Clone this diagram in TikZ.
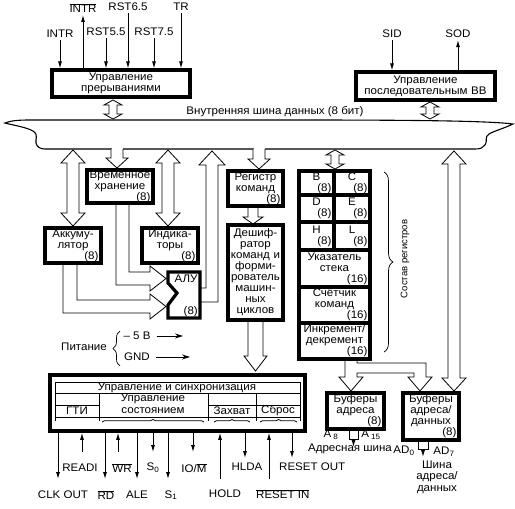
\documentclass[tikz,border=0pt]{standalone}
\usepackage{fontspec}
\setmainfont[FakeStretch=1.05]{Liberation Sans}
\newfontfamily\narrowsans{Liberation Sans}
\usetikzlibrary{arrows.meta,decorations.pathreplacing,scopes}

\tikzset{
  bx/.style 2 args={draw,line width=3.2pt,inner xsep=2pt,inner ysep=0pt,align=center,
    font=\fontsize{11}{11}\selectfont,minimum width=#1pt,minimum height=#2pt,
    /utils/exec={\pgfmathsetmacro\bw{#1-5}},text width/.expanded={\bw pt}},
  txt/.style={inner sep=0pt,font=\fontsize{11}{11.5}\selectfont},
  sig/.style={-{Latex[length=7pt,width=4pt]},line width=0.9pt},
  pw/.style={-{Stealth[length=8pt,width=5pt]},line width=0.8pt},
  hol/.style={fill=white,line width=0.8pt},
  tbl/.style={line width=0.6pt},
  brc/.style={decorate,decoration={brace,amplitude=#1},line width=0.7pt},
}

% hollow double arrow: x, top tip, bottom tip
\newcommand\dblarr[3]{\filldraw[hol] ({#1-6},{#2+13}) -- ({#1-12},{#2+13}) -- (#1,#2) -- ({#1+12},{#2+13}) -- ({#1+6},{#2+13})
  -- ({#1+6},{#3-13}) -- ({#1+12},{#3-13}) -- (#1,#3) -- ({#1-12},{#3-13}) -- ({#1-6},{#3-13}) -- cycle;}
% small double arrow
\newcommand\smlarr[3]{\filldraw[hol] ({#1-4},{#2+5}) -- ({#1-9},{#2+5}) -- (#1,#2) -- ({#1+9},{#2+5}) -- ({#1+4},{#2+5})
  -- ({#1+4},{#3-5}) -- ({#1+9},{#3-5}) -- (#1,#3) -- ({#1-9},{#3-5}) -- ({#1-4},{#3-5}) -- cycle;}
% arrow out of the bus: x, bus edge, tip
\newcommand\busdn[3]{\fill[white] ({#1-5.5},{#2-1.5}) rectangle ({#1+5.5},{#2+1});
  \filldraw[hol] ({#1-6},#2) -- ({#1-6},{#3-10}) -- ({#1-11},{#3-10}) -- (#1,#3) -- ({#1+11},{#3-10}) -- ({#1+6},{#3-10}) -- ({#1+6},#2);}

\begin{document}
\begin{tikzpicture}[x=1pt,y=-1pt]
\useasboundingbox (0,0) rectangle (515,509);

% internal data bus
\filldraw[fill=white,line width=1.1pt] (5,123) .. controls (10,121) and (16,120) .. (30,120) -- (300,120)
  .. controls (420,120) and (490,121) .. (513,124) .. controls (505,128) and (494,131) .. (489,134)
  .. controls (484,137) and (488,141) .. (485,145) .. controls (483,148) and (480,149) .. (475,149) -- (45,149)
  .. controls (40,149) and (37,147) .. (36,143) .. controls (35,139) and (39,135) .. (33,131)
  .. controls (26,127) and (12,125) .. (5,123) -- cycle;
\node[txt] (buslbl) at (275,112) {Внутренняя шина данных (8 бит)};

% wide arrows
\smlarr{113}{100}{119}
\smlarr{430}{102}{119}
\smlarr{335}{150}{169}
\dblarr{73}{150}{226}
\dblarr{168}{150}{226}
\dblarr{454}{151}{391}
\busdn{117}{149}{168}
\busdn{259}{149}{169}
\filldraw[hol] (201,288) -- (206,288) -- (206,165) -- (199,165) -- (212,151) -- (225,165) -- (218,165) -- (218,302) -- (201,302);
\filldraw[hol] (129,203) -- (129,272) -- (150,272) -- (150,266) -- (166,278.5) -- (150,291) -- (150,285) -- (116,285) -- (116,203);
\filldraw[hol] (77,263) -- (77,300) -- (150,300) -- (150,294) -- (166,306.5) -- (150,319) -- (150,313) -- (63,313) -- (63,263);
\filldraw[hol] (248,206) -- (248,217) -- (243,217) -- (253,224) -- (263,217) -- (258,217) -- (258,206);
\filldraw[hol] (248,320) -- (248,356) -- (244,356) -- (255.5,371) -- (267,356) -- (263,356) -- (263,320);
\filldraw[hol] (345,359) -- (345,377) -- (339,377) -- (351,391) -- (363,377) -- (357,377) -- (357,373) -- (414,373)
  -- (414,377) -- (408,377) -- (420,391) -- (432,377) -- (426,377) -- (426,363) -- (357,363) -- (357,359);

% blocks
\node[bx={138}{27}] (ic) at (121,83.5) {Управление\\прерываниями};
\node[bx={139}{28}] (sio) at (425.5,86) {Управление\\последовательным ВВ};
\node[bx={66}{33}] (tmp) at (120,186.5) {Временное\\хранение\\\hfill(8)};
\node[bx={56}{35}] (acc) at (73,245.5) {Аккуму-\\лятор\\\hfill(8)};
\node[bx={56}{35}] (flg) at (170,245.5) {Индика-\\торы\\\hfill(8)};
\node[bx={55}{35}] (ir) at (255.5,188.5) {Регистр\\команд\\\hfill(8)};
\node[bx={55}{95}] (dec) at (255.5,272.5) {Дешиф-\\ратор\\команд и\\форми-\\рователь\\машин-\\ных\\циклов};
\node[bx={57}{36}] (abuf) at (355.5,411) {Буферы\\адреса\\\hfill(8)};
\node[bx={56}{47}] (adbuf) at (431,416.5) {Буферы\\адреса/\\данных\\\hfill(8)};

\draw[line width=3.2pt] (168,272) -- (200,272) -- (200,318) -- (168,318) -- (168,305) -- (177,293) -- (168,283) -- cycle;
\node[txt] (alu) at (186,279) {АЛУ};
\node[txt,anchor=south east] (alusz) at (198,316.5) {(8)};

% register array
\node[bx={35}{24}] (rB) at (316.5,183) {B\\\hfill(8)};
\node[bx={36}{24}] (rC) at (352,183) {C\\\hfill(8)};
\node[bx={35}{27}] (rD) at (316.5,208.5) {D\\\hfill(8)};
\node[bx={36}{27}] (rE) at (352,208.5) {E\\\hfill(8)};
\node[bx={35}{28}] (rH) at (316.5,236) {H\\\hfill(8)};
\node[bx={36}{28}] (rL) at (352,236) {L\\\hfill(8)};
\node[bx={71}{37}] (sp) at (334.5,268.5) {Указатель\\стека\\\hfill(16)};
\node[bx={71}{36}] (pc) at (334.5,305) {Счётчик\\команд\\\hfill(16)};
\node[bx={71}{36}] (inc) at (334.5,341) {Инкремент/\\декремент\\\hfill(16)};
\draw[brc=9pt] (384,172) -- (384,352);
\node[rotate=90,inner sep=0pt,font=\narrowsans\fontsize{9.5}{10}\selectfont] (sostav) at (405,259) {Состав регистров};

% control and timing
\node[bx={255}{56},line width=3.6pt] (ctl) at (177.5,403) {};
\draw[tbl] (55,421) -- (55,382) -- (300,382) -- (300,421);
\draw[tbl] (55,393) -- (300,393);
\draw[tbl] (55,405) -- (99,405) (208,405) -- (300,405);
\draw[tbl] (55,417) -- (300,417);
\draw[tbl] (99,393) -- (99,421) (208,393) -- (208,421) (256,393) -- (256,421);
\draw[brc=2.5pt] (102,422) -- (204,422);
\draw[brc=2.5pt] (214,422) -- (250,422);
\draw[brc=2.5pt] (260,422) -- (297,422);
\node[txt] (ctltitle) at (177,387.5) {Управление и синхронизация};
\node[txt] (st1) at (153,399) {Управление};
\node[txt] (st2) at (153,411) {состоянием};
\node[txt] (gti) at (77,411) {ГТИ};
\node[txt] (zah) at (232,411) {Захват};
\node[txt] (sbr) at (278,411) {Сброс};

% power
\node[txt] (pwr) at (84,347) {Питание};
\node[txt] (p5) at (137,336) {– 5 В};
\node[txt] (gnd) at (137,357) {GND};
\coordinate (p5e) at (183,336);
\coordinate (gnde) at (190,357);
\draw[pw,shorten <=6pt] (p5.east) -- (p5e);
\draw[pw,shorten <=6pt] (gnd.east) -- (gnde);
\draw[brc=7pt] (120,366) -- (120,331);

% interrupt and serial lines
\node[txt] (intr) at (60,34) {INTR};
\node[txt] (inta) at (83,8) {$\overline{\mbox{INTR}}$};
\node[txt] (rst55) at (106,32) {RST5.5};
\node[txt] (rst65) at (128,7) {RST6.5};
\node[txt] (rst75) at (154,32) {RST7.5};
\node[txt] (trap) at (181,7) {TR};
\node[txt] (sid) at (392,34) {SID};
\node[txt] (sod) at (458,34) {SOD};
{ [sig,shorten <=2pt]
  \draw (intr.south) -- (intr.south |- ic.north);
  \draw (rst55.south) -- (rst55.south |- ic.north);
  \draw (rst65.south) -- (rst65.south |- ic.north);
  \draw (rst75.south) -- (rst75.south |- ic.north);
  \draw (trap.south) -- (trap.south |- ic.north);
  \draw (sid.south) -- (sid.south |- sio.north);
}
{ [sig,shorten >=2pt]
  \draw (ic.north -| inta) -- (inta.south);
  \draw (sio.north -| sod) -- (sod.south);
}

% control lines
\coordinate (clke) at (58,479);
\coordinate (rdye) at (82,452);
\coordinate (rde) at (105,479);
\coordinate (wre) at (118,452);
\coordinate (alee) at (137,479);
\coordinate (s0e) at (153,452);
\coordinate (s1e) at (168,479);
\coordinate (iome) at (193,452);
\coordinate (holde) at (220,479);
\coordinate (hldae) at (245,458);
\coordinate (rine) at (269,479);
\coordinate (route) at (292,458);
{ [sig]
  \draw (ctl.south -| clke) -- (clke);
  \draw (rdye) -- (ctl.south -| rdye);
  \draw (ctl.south -| rde) -- (rde);
  \draw (wre) -- (ctl.south -| wre);
  \draw (ctl.south -| alee) -- (alee);
  \draw (ctl.south -| s0e) -- (s0e);
  \draw (ctl.south -| s1e) -- (s1e);
  \draw (ctl.south -| iome) -- (iome);
  \draw (holde) -- (ctl.south -| holde);
  \draw (ctl.south -| hldae) -- (hldae);
  \draw (rine) -- (ctl.south -| rine);
  \draw (ctl.south -| route) -- (route);
}
\node[txt] (clk) at (63,495) {CLK OUT};
\node[txt] (rdy) at (80,468) {READI};
\node[txt] (rd) at (106,495) {$\overline{\mbox{RD}}$};
\node[txt] (wr) at (122,468) {$\overline{\mbox{WR}}$};
\node[txt] (ale) at (137,495) {ALE};
\node[txt] (s0) at (153,468) {S\textsubscript{0}};
\node[txt] (s1) at (171,495) {S\textsubscript{1}};
\node[txt] (iom) at (194,468) {IO/$\overline{\mbox{M}}$};
\node[txt] (hold) at (225,494) {HOLD};
\node[txt] (hlda) at (247,467) {HLDA};
\node[txt,anchor=west] (rin) at (256,494) {$\overline{\mbox{RESET IN}}$};
\node[txt,anchor=west] (rout) at (279,467) {RESET OUT};

% address outputs
\coordinate (abe) at (353.5,447);
\coordinate (ade) at (423,457);
\draw[line width=0.8pt] (349,431) -- (349,439) -- (358,439) -- (358,431);
\draw[sig] (abe |- 0,439) -- (abe);
\draw[line width=0.8pt] (418,442) -- (418,449) -- (428,449) -- (428,442);
\draw[sig] (ade |- 0,449) -- (ade);
\node[txt] (a8) at (331,435) {A\,\textsubscript{8}};
\node[txt] (a15) at (371,435) {A\,\textsubscript{15}};
\node[txt] (abus) at (350,449) {Адресная шина};
\node[txt] (ad0) at (404,451) {AD\textsubscript{0}};
\node[txt] (ad7) at (444,452) {AD\textsubscript{7}};
\node[txt,align=center] (adbus) at (437,477) {Шина\\адреса/\\данных};
\end{tikzpicture}
\end{document}
